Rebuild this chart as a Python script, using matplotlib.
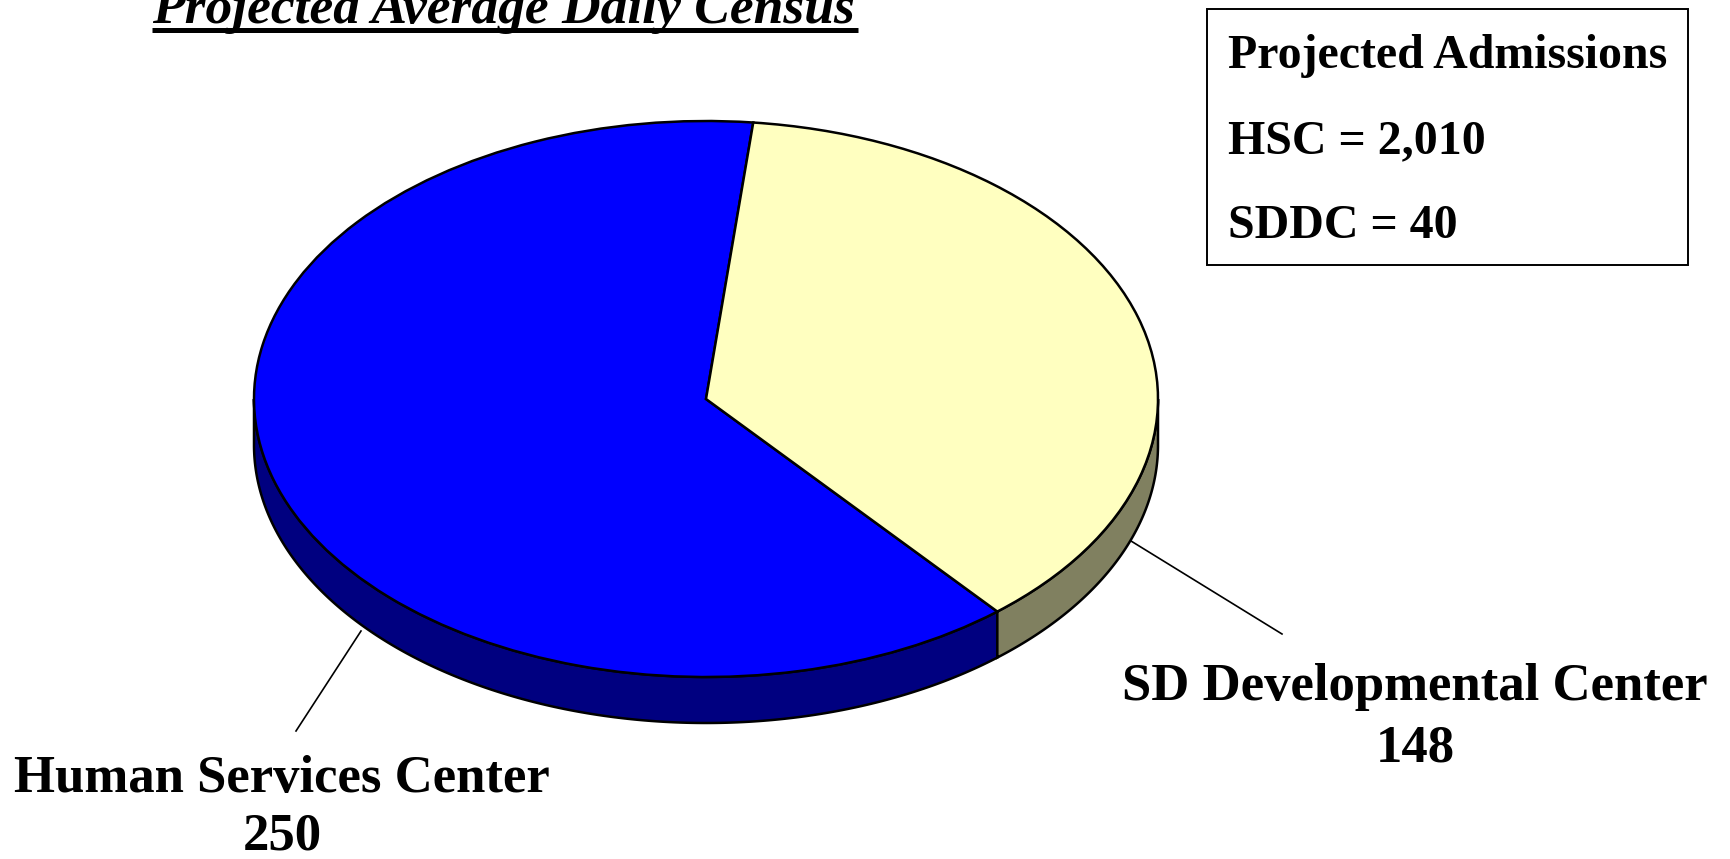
import numpy as np
import matplotlib.pyplot as plt
from matplotlib.patches import Polygon, Rectangle

# ---- data ----
labels = ["Human Services Center", "SD Developmental Center"]
values = [250, 148]
top_colors = ["#0000FF", "#FFFFC0"]
side_colors = ["#000080", "#808060"]
title = "Projected Average Daily Census"
adm_title = "Projected Admissions"
adm_names = ["HSC", "SDDC"]
adm_values = [2010, 40]
start_angle = 84

W, H = 1730, 859
fig = plt.figure(figsize=(W / 100, H / 100), dpi=100)
plt.rcParams['font.family'] = ['Liberation Serif', 'DejaVu Serif']

# ---- pie geometry (pixels) ----
cx, cy, a, b, depth = 706, 399, 452, 278, 46
d = depth / b
left = (cx - a) / W
width = 2 * a / W
top_px = cy - b
bot_px = cy + b + depth
ax = fig.add_axes([left, (H - bot_px) / H, width, (bot_px - top_px) / H])

wedges, _ = ax.pie(values, startangle=start_angle, counterclock=True,
                   colors=top_colors, radius=1, center=(0, 0),
                   wedgeprops=dict(edgecolor='black', linewidth=1.8, zorder=3))
ax.set_aspect('auto')
ax.set_xlim(-1, 1)
ax.set_ylim(-1 - d, 1)
ax.axis('off')
for w in wedges:
    w.set_clip_on(False)

# side walls (front half: 180..360 degrees)
fr = np.array(values) / sum(values)
bounds = start_angle + 360 * np.concatenate([[0], np.cumsum(fr)])
for i in range(len(values)):
    a1, a2 = bounds[i], bounds[i + 1]
    for k in range(-1, 3):
        lo = max(a1, 180 + 360 * k)
        hi = min(a2, 360 + 360 * k)
        if hi <= lo:
            continue
        t = np.radians(np.linspace(lo, hi, 300))
        x, y = np.cos(t), np.sin(t)
        pts = np.concatenate([np.column_stack([x, y]),
                              np.column_stack([x[::-1], y[::-1] - d])])
        ax.add_patch(Polygon(pts, closed=True, facecolor=side_colors[i],
                             edgecolor='black', linewidth=1.8, zorder=2,
                             clip_on=False))

# ---- overlay for text / lines in pixel coords ----
ov = fig.add_axes([0, 0, 1, 1])
ov.set_xlim(0, W)
ov.set_ylim(H, 0)
ov.axis('off')
ov.patch.set_alpha(0)

# title (cut at the top edge as in the reference)
ov.text(152, 23, title, fontsize=38.5, fontweight='bold', style='italic',
        ha='left', va='baseline')
ov.plot([152, 858], [30, 30], color='black', linewidth=3.6, solid_capstyle='butt')

# admissions box
ov.add_patch(Rectangle((1207, 9), 1688 - 1207, 265 - 9, facecolor='white',
                       edgecolor='black', linewidth=1.4))
ov.text(1228, 68, adm_title, fontsize=34.5, fontweight='bold', va='baseline')
for j, (n, v) in enumerate(zip(adm_names, adm_values)):
    ov.text(1228, 153 + 85 * j, f"{n} = {v:,}", fontsize=34.5, fontweight='bold',
            va='baseline')

# labels with leader lines
ov.plot([361, 296], [631, 731], color='black', linewidth=1.2)
ov.text(282, 792, labels[0], fontsize=38, fontweight='bold', ha='center', va='baseline')
ov.text(282, 850, str(values[0]), fontsize=38, fontweight='bold', ha='center', va='baseline')

ov.plot([1131, 1282], [541, 634], color='black', linewidth=1.2)
ov.text(1415, 700, labels[1], fontsize=38, fontweight='bold', ha='center', va='baseline')
ov.text(1415, 761, str(values[1]), fontsize=38, fontweight='bold', ha='center', va='baseline')

fig.savefig('out.png', dpi=100)
